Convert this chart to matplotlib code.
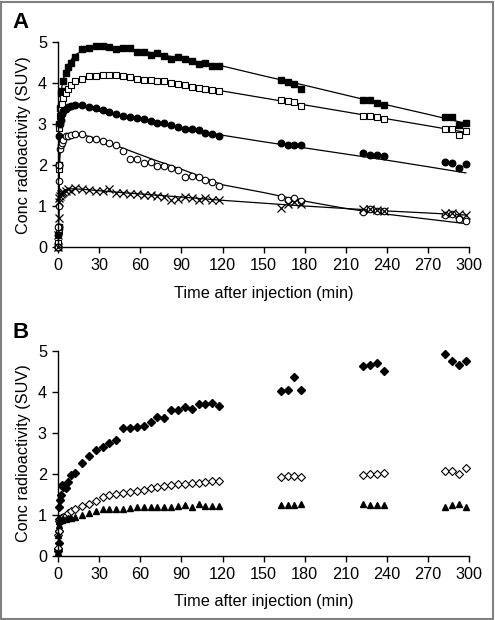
import matplotlib
matplotlib.use("Agg")
import matplotlib.pyplot as plt
from matplotlib.patches import Rectangle

plt.rcParams['font.family'] = ['Liberation Sans', 'DejaVu Sans']

# ---------------- data ----------------
t_main = [0.1, 0.3, 0.5, 0.75, 1.0, 1.5, 2.0, 3.0, 4.0, 5.5, 7.5, 9.5, 12.5,
          17.5, 22.5, 27.5, 32.5, 37.5, 42.5, 47.5, 52.5, 57.5, 62.5, 67.5,
          72.5, 77.5, 82.5, 87.5, 92.5, 97.5, 102.5, 107.5, 112.5, 117.5,
          162.5, 167.5, 172.5, 177.5, 222.5, 227.5, 232.5, 237.5,
          282.5, 287.5, 292.5, 297.5]

# Panel A
a_filled_sq = [0.0, 0.05, 0.5, 2.0, 3.0, 3.4, 3.75, 3.8, 4.05, 4.25, 4.4, 4.5, 4.63,
               4.83, 4.87, 4.91, 4.91, 4.88, 4.83, 4.87, 4.87, 4.77, 4.77, 4.70,
               4.74, 4.66, 4.58, 4.65, 4.58, 4.54, 4.48, 4.50, 4.42, 4.42,
               4.07, 4.04, 3.99, 3.86, 3.58, 3.58, 3.51, 3.48,
               3.18, 3.18, 2.98, 3.02]
a_open_sq = [0.0, 0.1, 0.4, 1.9, 2.9, 3.2, 3.35, 3.5, 3.65, 3.75, 3.85, 3.95, 4.05,
             4.11, 4.17, 4.17, 4.19, 4.19, 4.19, 4.17, 4.15, 4.11, 4.09, 4.07,
             4.05, 4.05, 4.00, 3.99, 3.95, 3.92, 3.89, 3.86, 3.84, 3.81,
             3.58, 3.56, 3.54, 3.44, 3.21, 3.20, 3.18, 3.12,
             2.89, 2.89, 2.73, 2.84]
a_filled_ci = [0.0, 0.3, 0.5, 2.0, 2.7, 3.0, 3.1, 3.25, 3.33, 3.38, 3.43, 3.45, 3.46,
               3.46, 3.43, 3.40, 3.35, 3.29, 3.25, 3.21, 3.17, 3.14, 3.12, 3.08,
               3.04, 3.04, 2.98, 2.92, 2.89, 2.88, 2.85, 2.79, 2.77, 2.71,
               2.54, 2.49, 2.48, 2.48, 2.29, 2.24, 2.24, 2.22,
               2.08, 2.04, 1.94, 2.02]
a_open_ci = [0.0, 0.5, 1.0, 1.6, 2.0, 2.4, 2.5, 2.55, 2.62, 2.70, 2.72, 2.74, 2.76,
             2.77, 2.65, 2.65, 2.60, 2.55, 2.50, 2.35, 2.14, 2.16, 2.04, 2.07,
             1.99, 1.97, 1.93, 1.88, 1.71, 1.73, 1.70, 1.63, 1.59, 1.50,
             1.21, 1.16, 1.19, 1.12, 0.86, 0.92, 0.89, 0.89,
             0.78, 0.80, 0.68, 0.64]
a_cross = [0.0, 0.3, 0.7, 1.1, 1.2, 1.25, 1.3, 1.33, 1.35, 1.38, 1.42, 1.38, 1.45,
           1.41, 1.40, 1.38, 1.36, 1.41, 1.33, 1.31, 1.29, 1.30, 1.28, 1.27,
           1.25, 1.22, 1.15, 1.17, 1.22, 1.20, 1.16, 1.20, 1.14, 1.15,
           0.96, 1.04, 1.10, 1.04, 0.93, 0.93, 0.90, 0.88,
           0.84, 0.84, 0.80, 0.78]

# fitted curves
fit_t = [0, 0.5, 1, 2, 3, 5, 8, 12, 18, 25, 35, 50, 70, 90, 120, 150, 180,
         210, 240, 270, 297.5]
fit_filled_sq = [0, 1.0, 3.0, 3.7, 3.95, 4.25, 4.5, 4.68, 4.8, 4.86, 4.87, 4.84,
                 4.74, 4.6, 4.42, 4.18, 3.95, 3.71, 3.47, 3.24, 3.02]
fit_open_sq = [0, 0.9, 2.8, 3.3, 3.5, 3.72, 3.92, 4.05, 4.13, 4.17, 4.18, 4.16,
               4.08, 3.97, 3.81, 3.64, 3.47, 3.30, 3.13, 2.96, 2.80]
fit_filled_ci = [0, 1.0, 2.7, 3.1, 3.25, 3.38, 3.44, 3.45, 3.43, 3.36, 3.27, 3.16,
                 3.03, 2.90, 2.73, 2.57, 2.42, 2.27, 2.12, 1.96, 1.81]
fit_open_ci = [0, 1.0, 2.0, 2.45, 2.58, 2.68, 2.74, 2.76, 2.74, 2.68, 2.57, 2.38,
               2.13, 1.90, 1.52, 1.33, 1.12, 0.94, 0.80, 0.68, 0.57]
fit_cross = [0, 0.7, 1.2, 1.3, 1.35, 1.39, 1.42, 1.42, 1.41, 1.39, 1.36, 1.32,
             1.27, 1.22, 1.14, 1.07, 1.00, 0.94, 0.88, 0.83, 0.78]

# Panel B
b_filled_dia = [0.12, 0.17, 0.3, 0.6, 1.2, 1.35, 1.48, 1.72, 1.68, 1.65, 1.8, 1.97, 2.01,
                2.25, 2.44, 2.59, 2.64, 2.76, 2.82, 3.11, 3.11, 3.15, 3.16, 3.27,
                3.39, 3.35, 3.55, 3.55, 3.62, 3.59, 3.70, 3.69, 3.73, 3.66,
                4.02, 4.04, 4.37, 4.04, 4.63, 4.65, 4.69, 4.51,
                4.92, 4.76, 4.65, 4.76]
b_open_dia = [0.2, 0.5, 0.6, 0.85, 0.9, 0.9, 0.92, 0.93, 0.95, 0.98, 1.03, 1.08, 1.13,
              1.21, 1.27, 1.34, 1.42, 1.47, 1.50, 1.53, 1.56, 1.58, 1.61, 1.64,
              1.68, 1.70, 1.72, 1.74, 1.76, 1.77, 1.77, 1.80, 1.82, 1.82,
              1.91, 1.95, 1.94, 1.93, 1.96, 1.99, 2.00, 2.02,
              2.07, 2.06, 2.00, 2.13]
b_triangle = [0.1, 0.5, 0.75, 0.85, 0.85, 0.87, 0.88, 0.88, 0.9, 0.9, 0.92, 0.93, 0.95,
              0.99, 1.05, 1.10, 1.13, 1.15, 1.15, 1.15, 1.17, 1.19, 1.19, 1.19,
              1.20, 1.19, 1.20, 1.22, 1.24, 1.20, 1.26, 1.22, 1.22, 1.22,
              1.24, 1.24, 1.24, 1.26, 1.26, 1.24, 1.23, 1.24,
              1.18, 1.24, 1.26, 1.18]

x_ticks = [0, 30, 60, 90, 120, 150, 180, 210, 240, 270, 300]
y_ticks = [0, 1, 2, 3, 4, 5]
xlabel = "Time after injection (min)"
ylabel = "Conc radioactivity (SUV)"

# ---------------- figure ----------------
W, H = 495, 620
fig = plt.figure(figsize=(W / 100, H / 100), dpi=100)
fig.patch.set_facecolor('white')

left = 58 / W
width = (469.3 - 58) / W
axA = fig.add_axes([left, 1 - 247 / H, width, (247 - 42.3) / H])
axB = fig.add_axes([left, 1 - 555.7 / H, width, (555.7 - 350.7) / H])

FS = 11.7


def style(ax):
    ax.set_xlim(0, 300)
    ax.set_ylim(0, 5)
    ax.set_xticks(x_ticks)
    ax.set_yticks(y_ticks)
    for s in ['top', 'right']:
        ax.spines[s].set_visible(False)
    for s in ['left', 'bottom']:
        ax.spines[s].set_linewidth(1.0)
    ax.tick_params(direction='out', length=4, width=1.0, labelsize=FS, pad=4)
    ax.set_xlabel(xlabel, fontsize=FS, labelpad=9)
    ax.set_ylabel(ylabel, fontsize=FS, labelpad=5)
    ax.patch.set_alpha(0)
    for sp in ax.spines.values():
        sp.set_zorder(5)


lw = 0.9
for fy in [fit_filled_sq, fit_open_sq, fit_filled_ci, fit_open_ci, fit_cross]:
    axA.plot(fit_t, fy, color='black', lw=lw, zorder=2)

ms = 4.7
axA.plot(t_main, a_filled_sq, ls='none', marker='s', ms=ms, mfc='black', mec='black', zorder=3, clip_on=False)
axA.plot(t_main, a_open_sq, ls='none', marker='s', ms=ms, mfc='white', mec='black', mew=0.8, zorder=3, clip_on=False)
axA.plot(t_main, a_filled_ci, ls='none', marker='o', ms=ms, mfc='black', mec='black', zorder=3, clip_on=False)
axA.plot(t_main, a_open_ci, ls='none', marker='o', ms=ms, mfc='white', mec='black', mew=0.8, zorder=3, clip_on=False)
axA.plot(t_main, a_cross, ls='none', marker='x', ms=5.5, mec='black', mew=0.9, zorder=3, clip_on=False)
style(axA)

axB.plot(t_main, b_filled_dia, ls='none', marker='D', ms=4.0, mfc='black', mec='black', zorder=3, clip_on=False)
axB.plot(t_main, b_open_dia, ls='none', marker='D', ms=4.0, mfc='white', mec='black', mew=0.8, zorder=3, clip_on=False)
axB.plot(t_main, b_triangle, ls='none', marker='^', ms=4.8, mfc='black', mec='black', zorder=3, clip_on=False)
style(axB)

fig.text(12 / W, 1 - 23 / H, 'A', fontsize=16, fontweight='bold', va='center', ha='left')
fig.text(12 / W, 1 - 332 / H, 'B', fontsize=16, fontweight='bold', va='center', ha='left')

fig.add_artist(Rectangle((0.002, 0.002), 0.994, 0.995, transform=fig.transFigure,
                         fill=False, edgecolor='#808080', lw=1.5))

fig.savefig('out.png', dpi=100, facecolor='white')
